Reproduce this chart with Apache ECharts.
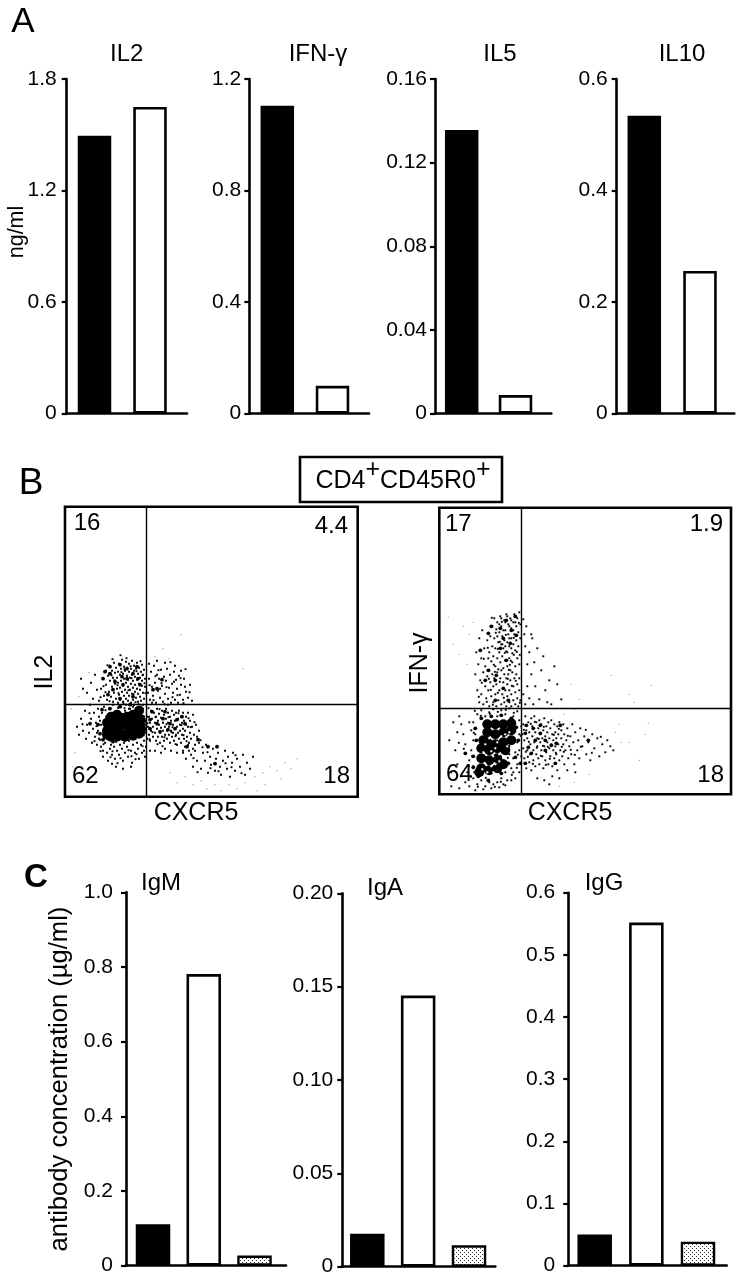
<!DOCTYPE html>
<html><head><meta charset="utf-8">
<style>html,body{margin:0;padding:0;background:#fff}#c{width:742px;height:1280px}</style>
<script src="https://cdn.jsdelivr.net/npm/echarts@6/dist/echarts.min.js"></script>
</head><body><div id="c"></div>
<script>
// ---- bar values (panel A: ng/ml; panel C: antibody concentration)
var il2 = [1.495, 1.65];
var ifng = [1.104, 0.1];
var il5 = [0.1356, 0.0089];
var il10 = [0.534, 0.256];
var igm = [0.111, 0.781, 0.027];
var iga = [0.0177, 0.1452, 0.0115];
var igg = [0.05, 0.552, 0.0386];
// ---- tick labels
var ticksIl2 = ['0','0.6','1.2','1.8'];
var ticksIfng = ['0','0.4','0.8','1.2'];
var ticksIl5 = ['0','0.04','0.08','0.12','0.16'];
var ticksIl10 = ['0','0.2','0.4','0.6'];
var ticksIgm = ['0','0.2','0.4','0.6','0.8','1.0'];
var ticksIga = ['0','0.05','0.10','0.15','0.20'];
var ticksIgg = ['0','0.1','0.2','0.3','0.4','0.5','0.6'];
// ---- flow cytometry events (CXCR5, cytokine), as x,y pairs
var gateIl2 = [81, 92];
var gateIfn = [82, 86];
var il2Core = [44,70,50,66,50,75,56,62,56,71,56,79,62,63,62,72,62,80,68,65,68,74,68,82,74,70,74,78,74,86,47,62,42,66,52,82,42,74,42,62,46,60,52,60,60,60,68,61,74,63,76,68,76,76,46,80];
var il2Knots = [55,132,57,120,50,115,62,118,68,123,73,118,45,123,40,125,58,112,48,107,75,112,68,100,55,98,43,102,38,118,62,128,72,130,45,130,37,87,45,88,55,90,65,92,73,88,78,80,80,67,35,63,38,57,48,55,60,57,70,60,78,62,33,72,25,73,87,85,92,73,98,78,105,73,95,65,103,67,112,77,117,80,120,73,85,68,110,68,85,77,100,85,92,108,97,117,88,107,150,33,133,57,122,50,143,50,152,50];
var il2Dots = [36,108,38,118,39,101,41,126,41,112,42,97,43,121,44,105,45,131,45,116,46,100,47,126,47,110,48,119,48,95,49,134,49,104,50,124,50,113,51,98,51,129,52,108,52,119,53,94,53,125,53,114,54,102,54,133,55,122,55,109,55,97,56,128,56,116,57,105,57,137,58,123,58,111,58,95,59,130,59,118,59,101,60,126,60,107,61,135,61,114,61,98,62,121,62,129,62,104,63,117,63,110,63,96,64,125,64,133,64,101,65,119,65,107,66,128,66,113,66,94,67,122,67,136,67,103,68,116,68,109,68,97,69,126,69,131,70,120,70,105,70,112,71,99,71,128,72,117,72,108,72,134,73,123,73,95,73,103,74,113,74,129,75,119,75,100,75,107,76,125,76,96,77,132,77,111,77,116,78,104,78,122,79,98,79,127,80,110,80,118,
83,104,84,118,85,97,86,125,87,110,88,101,89,131,90,114,91,94,92,122,93,106,94,118,95,99,96,127,97,111,98,95,99,120,100,103,101,116,102,128,103,98,104,109,105,122,106,94,107,113,108,104,109,125,110,97,111,117,112,108,113,94,114,121,115,102,116,112,118,97,119,118,121,105,123,99,125,112,127,96,84,133,92,136,100,134,110,131,116,126,120,110,87,94,95,108,103,92,109,115,
12,70,14,62,16,78,18,66,20,86,21,58,22,72,24,64,25,92,26,78,27,54,28,68,29,84,30,60,31,74,32,52,33,88,33,66,34,80,35,57,36,72,22,104,26,114,28,98,30,122,32,107,34,96,18,108,16,118,
32,64,34,58,35,76,36,50,37,84,38,66,38,46,39,90,40,54,41,80,42,44,43,60,44,88,45,48,46,52,47,42,48,92,49,50,50,38,51,55,52,46,53,89,54,42,55,52,56,90,57,48,58,36,59,54,60,44,61,92,62,50,63,40,64,56,65,88,66,46,67,34,68,52,69,92,70,44,71,88,72,54,73,48,74,38,75,90,76,52,77,44,78,88,79,56,80,40,80,72,80,64,81,50,82,80,82,58,79,46,43,36,51,30,47,33,58,28,66,30,38,40,60,86,64,88,68,90,72,88,76,90,70,86,74,85,66,92,78,92,
83,70,84,62,84,80,85,74,85,56,86,66,86,86,87,78,88,60,88,70,89,84,90,64,90,74,91,56,91,80,92,68,92,88,93,60,93,76,94,72,94,83,95,64,95,54,96,79,96,69,97,60,97,86,98,74,98,66,99,82,99,56,100,70,100,62,101,78,101,88,102,66,102,58,103,74,103,84,104,62,104,70,105,80,105,54,106,66,106,76,107,60,107,86,108,72,108,64,109,82,109,56,110,68,110,76,111,62,111,84,112,70,112,52,113,78,113,64,114,58,114,86,115,72,115,66,116,80,116,54,117,62,117,74,118,84,118,68,119,58,119,76,120,50,120,66,121,80,121,72,122,60,123,70,123,84,124,54,125,76,125,64,126,58,127,70,128,82,129,62,130,52,131,72,132,60,134,66,128,48,124,46,118,46,112,44,106,46,100,48,96,44,90,46,85,46,
118,44,121,38,123,52,126,42,128,30,130,46,132,36,134,54,136,28,138,44,140,36,141,52,143,24,145,40,146,32,148,48,150,26,151,38,153,44,155,30,156,22,158,36,160,46,162,28,163,40,165,20,167,34,168,44,170,26,172,38,175,30,178,42,180,22,182,34,185,28,188,40,
47.5,137.5,73.5,92.5,52.5,111.5,66.5,118.5,40.5,104.5,59.5,127.5,80.5,103.5,44.5,95.5,71.5,125.5,55.5,141.5,63.5,106.5,49.5,116.5,75.5,135.5,38.5,110.5,68.5,102.5,58.5,93.5,77.5,121.5,61.5,138.5,46.5,121.5,70.5,94.5,53.5,103.5,65.5,130.5,42.5,131.5,79.5,113.5,56.5,124.5,35.5,99.5,
93.5,126.5,101.5,109.5,88.5,96.5,115.5,118.5,107.5,99.5,96.5,113.5,120.5,127.5,84.5,111.5,105.5,134.5,112.5,101.5,90.5,120.5,124.5,104.5,99.5,92.5,118.5,93.5,
106.5,64.5,90.5,79.5,116.5,71.5,99.5,59.5,84.5,57.5,125.5,69.5,110.5,52.5,94.5,87.5,103.5,79.5,87.5,64.5,121.5,55.5,113.5,83.5,97.5,50.5,129.5,74.5,107.5,69.5,92.5,52.5,118.5,61.5,101.5,72.5,83.5,88.5,123.5,78.5,135.5,56.5,110.5,60.5,
128.5,38.5,145.5,28.5,137.5,49.5,160.5,33.5,153.5,25.5,170.5,41.5,142.5,44.5,132.5,24.5,166.5,29.5,176.5,23.5,
38.5,52.5,55.5,38.5,31.5,70.5,71.5,42.5,47.5,45.5,29.5,55.5,63.5,46.5,77.5,50.5,52.5,33.5,40.5,86.5,24.5,83.5,59.5,88.5,35.5,45.5,70.5,37.5,17.5,72.5,82.5,73.5,45.5,39.5,66.5,40.5];
var il2Faint = [105,24,112,14,120,20,128,12,136,16,142,8,150,12,156,6,164,12,172,8,180,14,190,20,198,24,205,30,212,26,220,34,226,28,232,38,216,18,200,12,192,6,116,162,178,128,90,140,98,148,104,138,8,30,10,44,6,88,14,100,24,124];
var ifnCore = [48,52,48,62,48,70,56,50,56,60,56,70,64,52,64,62,64,70,72,54,72,64,72,71,42,26,42,36,42,46,50,24,50,34,50,44,58,26,58,36,58,46,66,44,44,54,40,22,64,30];
var ifnHoles = [52,28,46,31,54,38,48,22,60,33,44,42,56,46,50,56,62,58,68,48,60,40,54,22,46,50,66,60,43,25,58,52,52,43,64,38,70,62,56,30];
var ifnKnots = [67,174,61,166,72,164,52,168,49,161,64,156,71,151,61,146,57,119,49,124,64,106,56,114,67,134,41,144,76,178,77,159,46,114,69,94,56,94,42,76,52,78,62,79,72,76,36,66,77,67,37,54,79,54,69,48,34,38,34,27,39,18,49,14,62,21,69,31,67,41,76,37,81,31,26,41,87,69,94,66,101,61,106,54,96,54,89,47,112,49,117,51,101,69,86,61,121,69,86,31,92,41,106,44,149,54,116,31];
var ifnDots = [50,142,51,158,52,133,53,168,53,148,54,138,55,176,55,156,56,128,56,146,57,165,58,136,58,172,59,152,59,125,60,142,60,162,61,132,61,178,62,150,62,168,63,138,63,158,64,126,64,146,65,174,65,154,66,134,66,164,67,143,67,180,68,152,68,128,69,170,69,160,70,136,70,148,71,176,71,124,72,156,72,166,73,141,73,132,74,172,74,150,75,160,75,180,76,128,76,144,77,168,77,154,78,136,78,176,79,148,79,162,80,182,80,130,81,170,81,156,60,170,62,176,64,164,66,172,68,178,70,168,72,174,74,164,76,172,63,150,66,148,68,142,70,156,72,146,58,158,
36,120,37,142,38,104,39,130,40,156,40,92,41,114,42,136,42,100,43,164,44,122,44,90,45,146,46,108,46,128,47,96,48,118,48,154,49,136,49,104,50,88,50,124,51,112,52,98,53,120,54,92,54,108,55,116,56,100,57,88,57,110,58,122,59,94,60,104,61,116,62,90,62,124,63,100,64,112,65,92,65,120,66,104,67,88,67,116,68,98,68,110,69,120,70,92,70,104,71,114,72,88,72,100,73,122,74,94,74,108,75,116,76,90,76,102,77,120,78,96,78,110,79,88,80,104,80,116,81,94,
84,175,85,160,86,148,87,168,88,130,90,142,92,120,93,156,95,132,96,108,98,146,100,95,102,124,104,138,106,104,108,92,110,114,84,100,86,90,90,96,94,90,112,90,115,128,118,110,122,95,88,108,92,160,
38,80,42,84,46,78,50,82,54,85,58,78,62,84,66,80,70,86,74,78,78,83,80,74,82,68,80,60,78,52,80,44,82,38,78,30,80,22,76,42,74,36,72,26,70,40,68,30,66,22,64,34,68,14,62,16,58,12,54,10,50,12,46,8,42,14,38,10,34,16,30,8,36,4,44,5,52,6,60,7,66,9,28,22,30,34,32,44,34,54,36,60,32,64,30,72,34,72,26,50,24,60,22,70,20,78,18,62,16,44,18,30,22,18,12,22,10,54,14,72,12,8,20,6,26,12,34,28,33,38,35,22,76,16,74,22,72,14,64,10,
83,60,84,46,84,70,85,36,85,54,86,78,87,64,87,26,88,44,88,56,89,72,90,32,90,62,91,50,91,40,92,76,92,24,93,58,93,68,94,44,94,34,95,52,95,78,96,62,96,28,97,72,97,40,98,56,98,48,99,66,99,36,100,74,100,30,101,52,101,60,102,44,102,70,103,38,103,56,104,64,104,26,105,48,105,76,106,58,106,34,107,68,107,42,108,52,108,62,109,72,109,30,110,46,110,56,111,38,111,66,112,50,112,74,113,60,113,28,114,44,114,54,115,70,115,36,116,62,116,48,117,56,117,40,118,68,118,24,119,50,119,60,120,34,120,72,121,44,122,56,122,64,123,38,124,50,124,70,125,30,125,60,126,44,127,54,128,66,129,36,130,48,131,58,132,40,133,70,134,52,135,30,136,62,138,44,139,54,140,36,141,66,143,48,145,58,147,40,149,52,151,34,153,60,155,46,158,56,160,38,163,50,166,42,168,54,171,48,174,44,113,18,120,16,105,14,98,16,110,10,128,24,136,22,
74.5,139.5,58.5,145.5,66.5,159.5,79.5,171.5,54.5,129.5,71.5,133.5,62.5,172.5,48.5,146.5,77.5,142.5,69.5,124.5,56.5,161.5,74.5,156.5,60.5,152.5,52.5,176.5,44.5,135.5,80.5,139.5,65.5,141.5,42.5,111.5,51.5,104.5,60.5,112.5,47.5,92.5,68.5,115.5,55.5,122.5,39.5,97.5,72.5,108.5,58.5,101.5,64.5,96.5,76.5,113.5,53.5,89.5,80.5,91.5,49.5,115.5,70.5,129.5,
95.5,72.5,108.5,47.5,89.5,52.5,119.5,65.5,101.5,38.5,86.5,42.5,114.5,59.5,97.5,46.5,124.5,42.5,104.5,67.5,91.5,70.5,110.5,35.5,128.5,58.5,84.5,64.5,103.5,48.5,116.5,41.5,93.5,30.5,122.5,47.5,106.5,29.5,99.5,55.5,131.5,44.5,88.5,37.5,141.5,47.5,152.5,41.5,161.5,57.5,135.5,39.5,146.5,64.5,
72.5,19.5,46.5,16.5,29.5,28.5,61.5,12.5,38.5,7.5,78.5,39.5,24.5,45.5,34.5,61.5,55.5,7.5,68.5,36.5,31.5,17.5,77.5,26.5,41.5,78.5,66.5,84.5,50.5,80.5,58.5,82.5,81.5,58.5,19.5,51.5,35.5,83.5,74.5,81.5];
var ifnFaint = [9,177,14,150,20,140,24,168,30,160,34,172,28,130,176,62,182,52,190,52,206,60,200,34,120,8,135,12,150,20,180,70,190,100,140,95,132,110,125,80,135,85,209,71,172,119,212,109,195,92];

// ---- layout
var FONT = 'Liberation Sans';
var INK = '#000';
var BLACK = 'solid', WHITE = 'open', DOT = 'dotted';
function dotPattern(){
  var c = document.createElement('canvas'); c.width = 4; c.height = 4;
  var g = c.getContext('2d'); g.fillStyle = '#fff'; g.fillRect(0,0,4,4);
  g.fillStyle = '#333'; g.fillRect(0,0,1,1); g.fillRect(2,2,1,1);
  return c;
}
var pattern = dotPattern();
var fills = {};
fills[BLACK] = {color: INK, borderColor: INK, borderWidth: 1.6};
fills[WHITE] = {color: '#fff', borderColor: INK, borderWidth: 2.6};
fills[DOT] = {color: {image: pattern, repeat: 'repeat'}, borderColor: INK, borderWidth: 2.4};

var barPanels = [
 {vals: il2,  ticks: ticksIl2,  max: 1.8,  step: 0.6,  left: 66.7,  right: 187,   top: 79,    bot: 413.7, first: 94.5,  gap: 55.5, w: 33.5, lm: 10, kinds:[BLACK,WHITE], fs: 21},
 {vals: ifng, ticks: ticksIfng, max: 1.2,  step: 0.4,  left: 249.3, right: 369,   top: 79,    bot: 413.7, first: 277.3, gap: 55.2, w: 33.5, lm: 8, kinds:[BLACK,WHITE], fs: 21},
 {vals: il5,  ticks: ticksIl5,  max: 0.16, step: 0.04, left: 435,   right: 551.3, top: 79,    bot: 413.7, first: 461.7, gap: 53.8, w: 33.5, lm: 8, kinds:[BLACK,WHITE], fs: 21},
 {vals: il10, ticks: ticksIl10, max: 0.6,  step: 0.2,  left: 616.7, right: 734.3, top: 79,    bot: 413.7, first: 644.3, gap: 55.7, w: 33.5, lm: 9, kinds:[BLACK,WHITE], fs: 21},
 {vals: igm,  ticks: ticksIgm,  max: 1.0,  step: 0.2,  left: 126,   right: 286,   top: 892.3, bot: 1265.7, first: 153,  gap: 50.75, w: 34.5, lm: 13, kinds:[BLACK,WHITE,DOT], fs: 21},
 {vals: iga,  ticks: ticksIga,  max: 0.2,  step: 0.05, left: 342.3, right: 495.3, top: 893.3, bot: 1266.7, first: 367.3, gap: 50.85, w: 34.5, lm: 9, kinds:[BLACK,WHITE,DOT], fs: 21},
 {vals: igg,  ticks: ticksIgg,  max: 0.6,  step: 0.1,  left: 568.3, right: 726.7, top: 892.7, bot: 1265.7, first: 594.7, gap: 51.65, w: 34.5, lm: 13, kinds:[BLACK,WHITE,DOT], fs: 21}
];
var flowPanels = [
 {core: il2Core, knots: il2Knots, dots: il2Dots, faint: il2Faint, holes: [], gate: gateIl2, left: 65,    right: 357.7, top: 506.7, bot: 796.7, coreSize: 10},
 {core: ifnCore, knots: ifnKnots, dots: ifnDots, faint: ifnFaint, holes: ifnHoles, gate: gateIfn, left: 439.3, right: 731, top: 507.7, bot: 794.3, coreSize: 10}
];
function pairs(a){ var o = []; for (var i = 0; i < a.length; i += 2) o.push([a[i], a[i+1]]); return o; }

var grid = [], xAxis = [], yAxis = [], series = [];
barPanels.forEach(function(p, n){
  grid.push({left: p.left, top: p.top, width: p.right - p.left, height: p.bot - p.top, containLabel: false});
  xAxis.push({gridIndex: n, type: 'value', min: (p.left - p.first) / p.gap, max: (p.right - p.first) / p.gap,
    axisLine: {show: true, onZero: false, lineStyle: {color: INK, width: 2.6}}, axisTick: {show: false}, axisLabel: {show: false}, splitLine: {show: false}});
  yAxis.push({gridIndex: n, type: 'value', min: 0, max: p.max, interval: p.step,
    axisLine: {show: true, onZero: false, lineStyle: {color: INK, width: 2.6}},
    axisTick: {show: true, length: 5, lineStyle: {color: INK, width: 2.2}},
    axisLabel: {show: true, margin: p.lm, color: INK, fontFamily: FONT, fontSize: p.fs,
      formatter: (function(t){ return function(v, i){ return t[Math.round(v / p.step)]; }; })(p.ticks)},
    splitLine: {show: false}});
  series.push({type: 'bar', xAxisIndex: n, yAxisIndex: n, barWidth: p.w, silent: true, z: 1,
    data: p.vals.map(function(v, i){ return {value: [i, v], itemStyle: fills[p.kinds[i]]}; })});
});
flowPanels.forEach(function(p, k){
  var n = barPanels.length + k;
  var W = p.right - p.left, H = p.bot - p.top;
  grid.push({left: p.left, top: p.top, width: W, height: H, show: true, borderColor: INK, borderWidth: 2.6, backgroundColor: 'transparent'});
  xAxis.push({gridIndex: n, type: 'value', min: 0, max: W, show: false, splitLine: {show: false}});
  yAxis.push({gridIndex: n, type: 'value', min: 0, max: H, show: false, splitLine: {show: false}});
  var base = {type: 'scatter', xAxisIndex: n, yAxisIndex: n, silent: true, large: false};
  series.push(Object.assign({}, base, {data: pairs(p.faint), symbolSize: 1.2, itemStyle: {color: '#888', opacity: 1}, z: 2}));
  series.push(Object.assign({}, base, {data: pairs(p.dots), symbol: 'rect', symbolSize: 1.9, itemStyle: {color: '#000', opacity: 1}, z: 3}));
  series.push(Object.assign({}, base, {data: pairs(p.knots), symbolSize: 3.8, itemStyle: {color: '#000', opacity: 1}, z: 3}));
  series.push(Object.assign({}, base, {data: pairs(p.core), symbolSize: p.coreSize, itemStyle: {color: '#000', opacity: 1}, z: 4}));
  series.push(Object.assign({}, base, {data: pairs(p.holes), symbol: 'rect', symbolSize: 2, itemStyle: {color: '#fff', opacity: 1}, z: 5,
    markLine: {silent: true, symbol: 'none', label: {show: false}, animation: false,
      lineStyle: {color: INK, width: 1.4, type: 'solid'},
      data: [{xAxis: p.gate[0]}, {yAxis: p.gate[1]}]}}));
});

function T(text, x, y, size, o){
  o = o || {};
  return {type: 'text', x: x, y: y, rotation: o.rot ? Math.PI / 2 : 0, z: 20,
    style: {text: text, fontFamily: FONT, fontSize: size, fontWeight: o.bold ? 'bold' : 'normal', fill: INK,
      align: o.align || 'center', verticalAlign: 'middle', rich: o.rich}};
}
var graphic = [
  T('A', 23, 22, 35), T('B', 31, 484, 37), T('C', 36, 878, 33, {bold: true}),
  T('IL2', 126.7, 54, 24), T('IFN-γ', 318, 54, 24), T('IL5', 500, 54, 24), T('IL10', 682, 54, 24),
  T('ng/ml', 17, 232, 21.5, {rot: true}),
  {type: 'rect', shape: {x: 300, y: 457, width: 202, height: 45}, z: 15, style: {fill: '#fff', stroke: INK, lineWidth: 2.6}},
  T('{a|CD4}{s|+}{a|CD45R0}{s|+}', 403, 476, 25, {rich: {
    a: {fontFamily: FONT, fontSize: 25, fill: INK, lineHeight: 36, verticalAlign: 'bottom'},
    s: {fontFamily: FONT, fontSize: 25, fill: INK, lineHeight: 24, verticalAlign: 'top'}}}),
  T('IL2', 45, 672, 25, {rot: true}), T('IFN-γ', 420, 663, 25, {rot: true}),
  T('CXCR5', 196, 813, 25), T('CXCR5', 570, 813, 25),
  T('16', 87, 523, 24), T('4.4', 348, 526, 24, {align: 'right'}), T('62', 72, 776, 24, {align: 'left'}), T('18', 350, 776, 24, {align: 'right'}),
  T('17', 445, 524, 24, {align: 'left'}), T('1.9', 723, 524, 24, {align: 'right'}), T('64', 446, 774, 24, {align: 'left'}), T('18', 724, 775, 24, {align: 'right'}),
  T('IgM', 161, 883, 24), T('IgA', 385, 888, 24), T('IgG', 604, 883, 24),
  T('antibody concentration (µg/ml)', 60, 1079, 25.6, {rot: true})
];
var chart = echarts.init(document.getElementById('c'), null, {renderer: 'canvas', width: 742, height: 1280});
chart.setOption({animation: false, backgroundColor: '#fff', tooltip: {show: false}, legend: {show: false},
  grid: grid, xAxis: xAxis, yAxis: yAxis, series: series, graphic: graphic});
</script></body></html>
